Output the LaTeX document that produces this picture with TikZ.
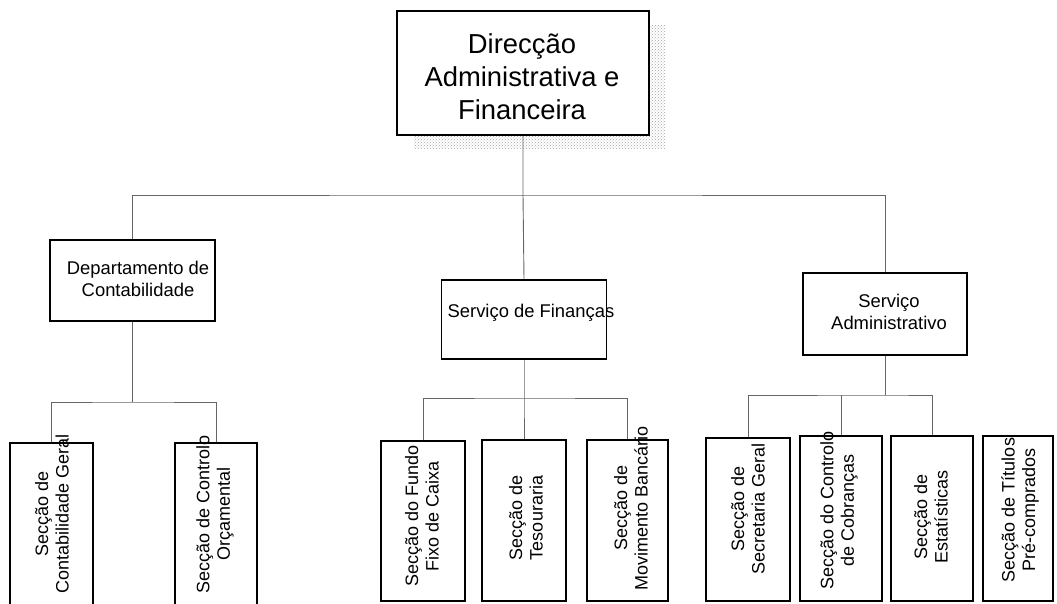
\documentclass[tikz,border=0pt]{standalone}
\usepackage{fontspec}
\setmainfont{Liberation Sans}
\usetikzlibrary{patterns}
\tikzset{
	unit/.style={draw, line width=1.8pt, fill=white, inner sep=0pt},
	link/.style={draw=black!60, line width=0.9pt},
	bigtxt/.style={font=\fontsize{27.4}{33}\selectfont, align=center},
	txt/.style={font=\fontsize{18.4}{22}\selectfont, align=center},
	vtxt/.style={font=\fontsize{18}{20.5}\selectfont, align=center, rotate=90}
}

\begin{document}
\begin{tikzpicture}[x=1pt, y=-1pt]
			\useasboundingbox (0,0) rectangle (1057,603);
			%%%%% START %%%%%
			
			% direccao
			\fill[pattern=crosshatch dots, pattern color=black!35] (414,25) rectangle (665,148);
			\node[unit, line width=2.4pt, minimum width=252pt, minimum height=124pt] (dir) at (523,73) {};
			\node[bigtxt] (dirtxt) at (522,77) {Direcção\\Administrativa e\\Financeira};
			
			% departamento / servicos
			\node[unit, minimum width=165pt, minimum height=81pt] (dep) at (132.5,280.5) {};
			\node[txt] (deptxt) at (138,279) {Departamento de\\Contabilidade};
			
			\node[unit, minimum width=165pt, minimum height=79pt] (fin) at (524,319.5) {};
			\node[txt] (fintxt) at (531,313) {Serviço de Finanças};
			
			\node[unit, minimum width=164pt, minimum height=82pt] (adm) at (885,314) {};
			\node[txt] (admtxt) at (889,312) {Serviço\\Administrativo};
			
			% seccoes
			\node[unit, minimum width=83pt, minimum height=167pt] (cg) at (51.5,526.5) {};
			\node[unit, minimum width=82pt, minimum height=167pt] (co) at (216,526.5) {};
			
			\node[unit, minimum width=84pt, minimum height=160pt] (ff) at (423,521) {};
			\node[unit, minimum width=84pt, minimum height=161pt] (te) at (524,520.5) {};
			\node[unit, minimum width=81pt, minimum height=161pt] (mb) at (627.5,520.5) {};
			
			\node[unit, minimum width=84pt, minimum height=163pt] (sg) at (748,519.5) {};
			\node[unit, minimum width=82pt, minimum height=165pt] (cc) at (841,518.5) {};
			\node[unit, minimum width=82pt, minimum height=165pt] (es) at (932,518.5) {};
			\node[unit, minimum width=70pt, minimum height=165pt] (tp) at (1018,518.5) {};
			
			\node[vtxt] (cgtxt) at (52,514) {Secção de\\Contabilidade Geral};
			\node[vtxt] (cotxt) at (215,514) {Secção de Controlo\\Orçamental};
			\node[vtxt] (fftxt) at (422,516) {Secção do Fundo\\Fixo de Caixa};
			\node[vtxt] (tetxt) at (526,518) {Secção de\\Tesouraria};
			\node[vtxt] (mbtxt) at (631,508) {Secção de\\Movimento Bancário};
			\node[vtxt] (sgtxt) at (748,509) {Secção de\\Secretaria Geral};
			\node[vtxt] (cctxt) at (839,510) {Secção do Controlo\\de Cobranças};
			\node[vtxt] (estxt) at (931,517) {Secção de\\Estatísticas};
			\node[vtxt] (tptxt) at (1020,510) {Secção de Títulos\\Pré-comprados};
			
			% ligacoes
			\coordinate (j0) at (523,195);
			\coordinate (jd) at (132.5,402);
			\coordinate (jf) at (524,398);
			\coordinate (ja) at (885,395);
			
			\draw[link] (dir.south) -- (j0) -- (fin.north);
			\draw[link] (dep.north) |- (j0) -| (adm.north);
			
			\draw[link] (dep.south) -- (jd);
			\draw[link] (cg.north) |- (jd) -| (co.north);
			
			\draw[link] (fin.south) -- (jf) -- (te.north);
			\draw[link] (ff.north) |- (jf) -| (mb.north);
			
			\draw[link] (adm.south) -- (ja);
			\draw[link] (sg.north) |- (ja) -| (es.north);
			\draw[link] (cc.north) -- (cc.north |- ja);
			
			%%%%% END %%%%%
\end{tikzpicture}
\end{document}
